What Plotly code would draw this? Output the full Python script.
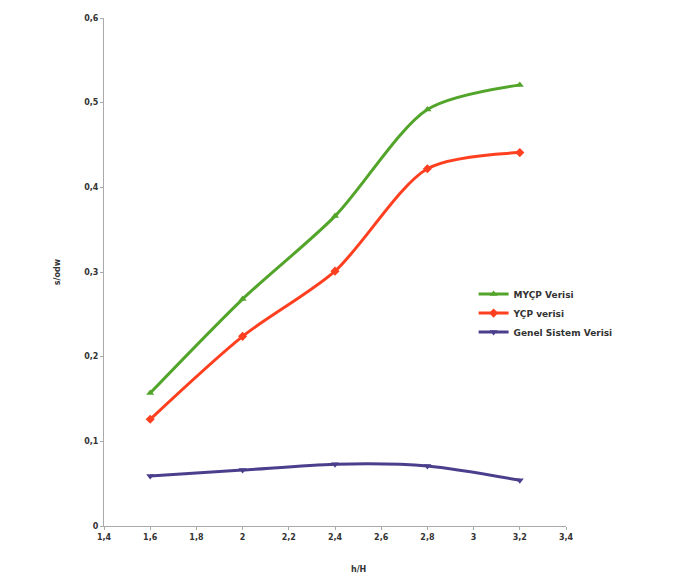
import plotly.graph_objects as go

# h/H values and measured series
x_vals = [1.6, 2.0, 2.4, 2.8, 3.2]
myvp = [0.157, 0.268, 0.366, 0.492, 0.521]
ycp = [0.126, 0.224, 0.301, 0.422, 0.441]
genel = [0.059, 0.066, 0.073, 0.071, 0.054]

names = ['MYÇP Verisi', 'YÇP verisi', 'Genel Sistem Verisi']
colors = ['#52a52a', '#ff4020', '#4a3f8c']
symbols = ['triangle-up', 'diamond', 'triangle-down']

fig = go.Figure()
for ys, nm, col, sym in zip([myvp, ycp, genel], names, colors, symbols):
    fig.add_trace(go.Scatter(x=x_vals, y=ys, name=nm, mode='lines+markers',
                             line=dict(color=col, width=3, shape='spline', smoothing=0.8),
                             marker=dict(symbol=sym, size=7, color=col)))

tick_font = dict(family='DejaVu Sans', size=8, color='#333', weight='bold')
axis_common = dict(showgrid=False, zeroline=False, showline=True, linecolor='#aaaaaa',
                   linewidth=1, ticks='outside', ticklen=3, tickcolor='#aaaaaa',
                   tickfont=tick_font, automargin=False)

fig.update_xaxes(range=[1.4, 3.4], dtick=0.2, tick0=1.4, **axis_common)
fig.update_yaxes(range=[0, 0.6], dtick=0.1,
                 title=dict(text='s/odw', font=tick_font, standoff=22),
                 **axis_common)

# x axis title sits a little right of centre in the original
fig.add_annotation(text='h/H', font=tick_font, showarrow=False,
                   xref='paper', yref='paper', x=0.55, y=-0.085,
                   xanchor='center', yanchor='middle')

fig.update_layout(
    width=673, height=579,
    separators=',.',
    plot_bgcolor='white', paper_bgcolor='white',
    margin=dict(l=96, r=115, t=10, b=61, autoexpand=False),
    font=dict(family='DejaVu Sans'),
    legend=dict(x=0.8, y=0.485, xanchor='left', yanchor='top',
                font=dict(size=9, color='#333', family='DejaVu Sans', weight='bold'),
                tracegroupgap=0, itemwidth=30),
)

fig.write_html('out.html')
